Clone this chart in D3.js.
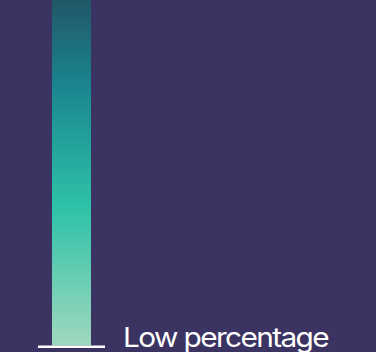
<!DOCTYPE html>
<html><head><meta charset="utf-8">
<script src="https://cdn.jsdelivr.net/npm/d3@7"></script>
<style>html,body{margin:0;padding:0;background:#3b3361;overflow:hidden}</style>
</head><body>
<svg id="c" width="376" height="352"></svg>
<script>
const categories = ["Low percentage"];
const values = [100];
const yDomain = [0, 100];
const gradientStops = [
  {offset: "0%", color: "#215768"},
  {offset: "25%", color: "#1a8590"},
  {offset: "60%", color: "#2ec2a8"},
  {offset: "100%", color: "#9fd8be"}
];

const W = 376, H = 352;
const svg = d3.select("#c");
svg.append("rect").attr("width", W).attr("height", H).attr("fill", "#3b3361");

const defs = svg.append("defs");
const grad = defs.append("linearGradient").attr("id", "g")
  .attr("x1", 0).attr("y1", 0).attr("x2", 0).attr("y2", 1);
grad.selectAll("stop").data(gradientStops).join("stop")
  .attr("offset", d => d.offset).attr("stop-color", d => d.color);

const y = d3.scaleLinear().domain(yDomain).range([345.5, 0]);
const x = d3.scaleBand().domain(categories).range([52, 91]).padding(0);

svg.selectAll("rect.bar").data(values).join("rect")
  .attr("class", "bar")
  .attr("x", (d, i) => x(categories[i]))
  .attr("width", x.bandwidth())
  .attr("y", d => y(d))
  .attr("height", d => y(0) - y(d))
  .attr("fill", "url(#g)");

// baseline
svg.append("line")
  .attr("x1", 38).attr("x2", 105)
  .attr("y1", y(0) + 1.2).attr("y2", y(0) + 1.2)
  .attr("stroke", "#ffffff").attr("stroke-width", 2.5);

// label
svg.selectAll("text.lab").data(categories).join("text")
  .attr("class", "lab")
  .attr("x", 123).attr("y", 347)
  .attr("fill", "#ffffff")
  .attr("font-family", "Inter, sans-serif")
  .attr("font-size", 27.5)
  .attr("letter-spacing", -1.5)
  .attr("textLength", 205)
  .attr("lengthAdjust", "spacingAndGlyphs")
  .text(d => d);
</script>
</body></html>
